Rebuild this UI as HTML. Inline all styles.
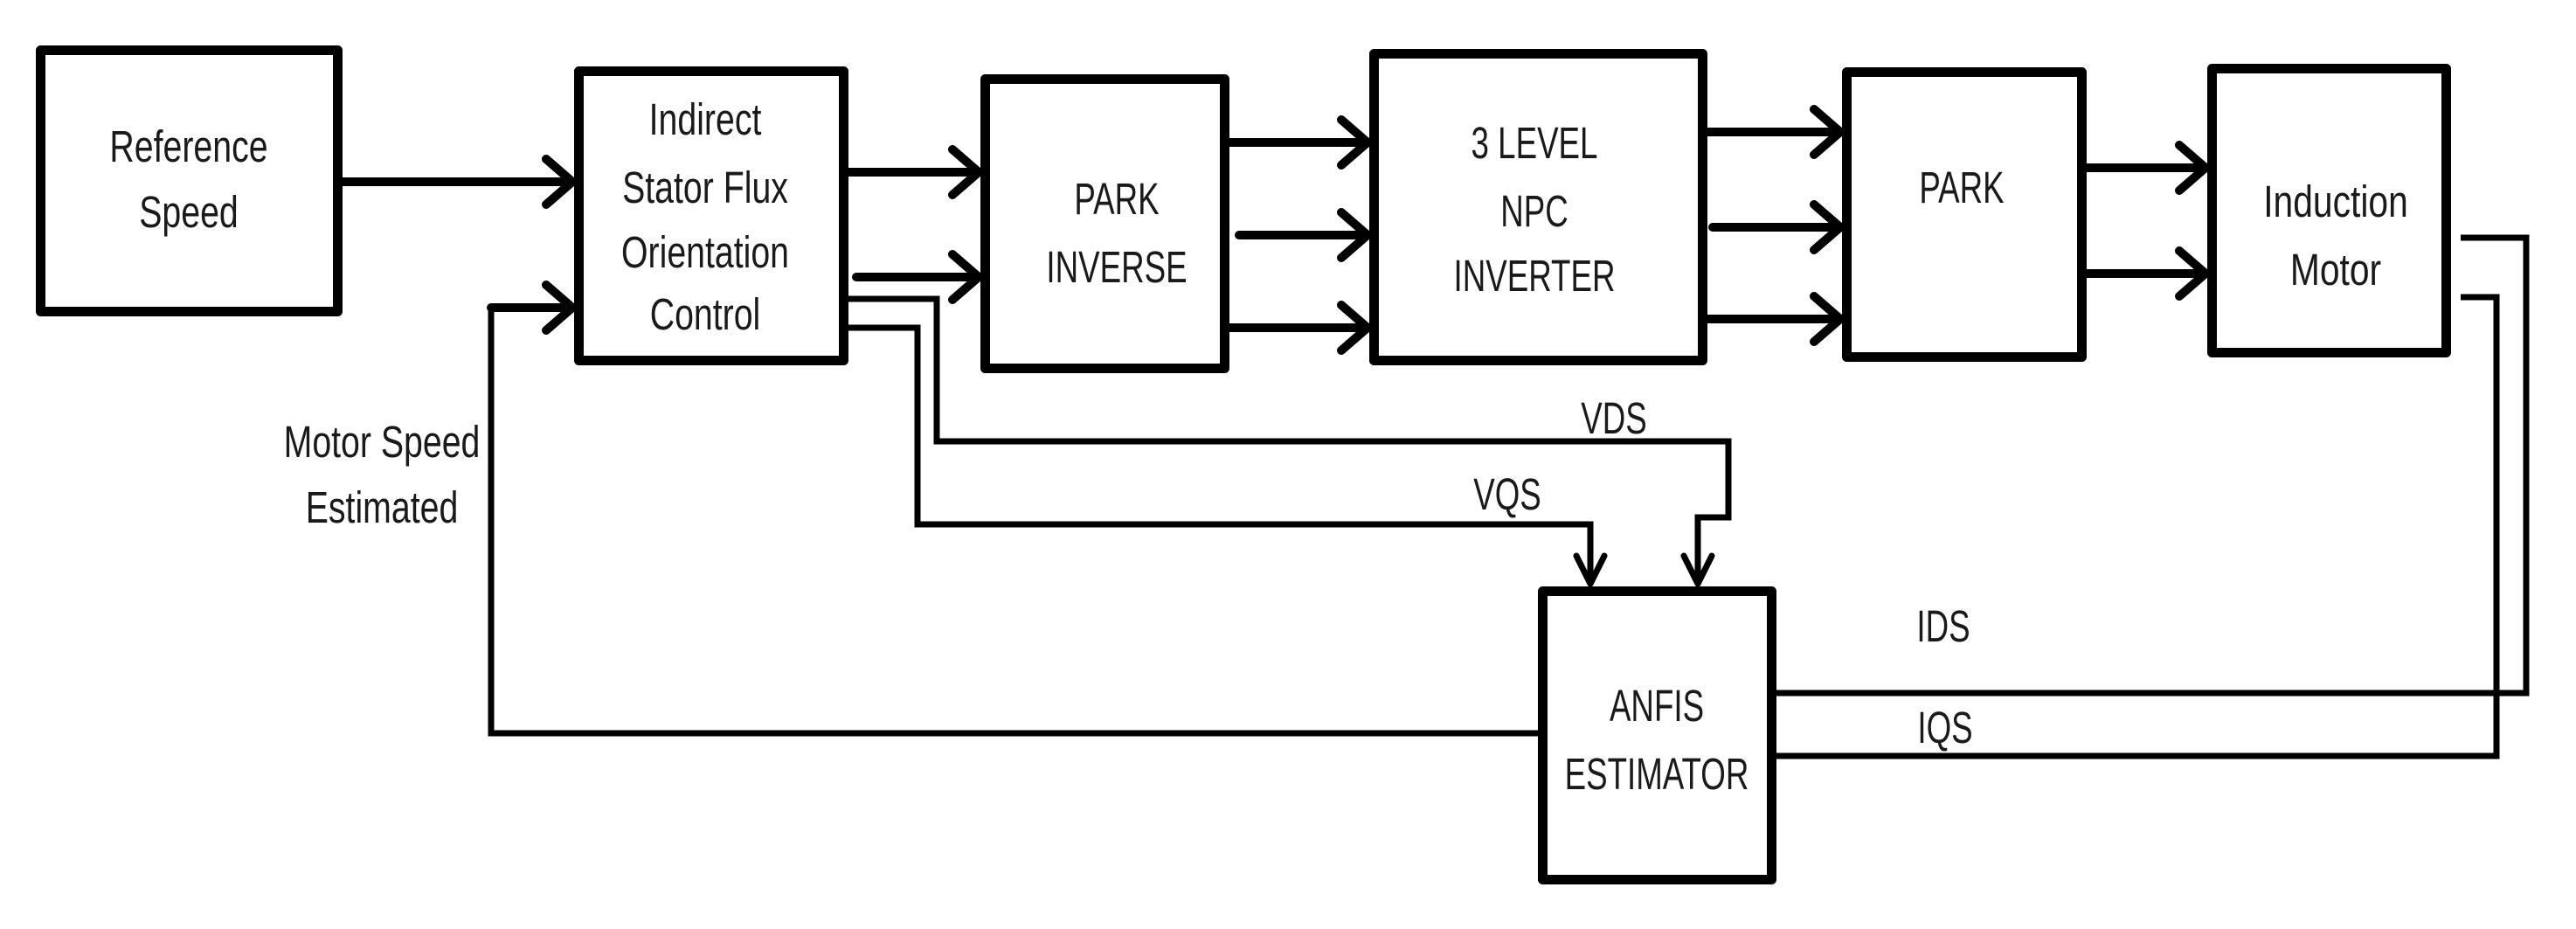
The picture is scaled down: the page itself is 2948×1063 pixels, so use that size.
<!DOCTYPE html>
<html><head><meta charset="utf-8"><style>
html,body{margin:0;padding:0;background:#fff}
svg{display:block}
text{font-family:"Liberation Sans",sans-serif;font-size:51px;fill:#1a1a1a}
</style></head><body>
<svg width="2948" height="1063" viewBox="0 0 2948 1063" xmlns="http://www.w3.org/2000/svg">
<g fill="none" stroke="#000" stroke-width="11" stroke-linejoin="round">
<rect x="46.5" y="57.5" width="340" height="299"/>
<rect x="662.5" y="81.5" width="303" height="331"/>
<rect x="1127.5" y="90.5" width="274" height="331"/>
<rect x="1572.5" y="61.5" width="376" height="351"/>
<rect x="2113.5" y="82.5" width="269" height="326"/>
<rect x="2531.5" y="78.5" width="268" height="325"/>
<rect x="1765.5" y="676.5" width="262" height="330"/>
</g>
<g fill="none" stroke="#000" stroke-width="10" stroke-linecap="round" stroke-linejoin="round">
<path d="M392 208H655M625 182L655 208L625 234"/>
<path d="M971 197H1120M1090 171L1120 197L1090 223"/>
<path d="M980 317H1120M1090 291L1120 317L1090 343"/>
<path d="M562 352H655M625 326L655 352L625 378"/>
<path d="M1407 163H1565M1535 137L1565 163L1535 189"/>
<path d="M1418 269H1565M1535 243L1565 269L1535 295"/>
<path d="M1407 375H1565M1535 349L1565 375L1535 401"/>
<path d="M1954 151H2106M2076 125L2106 151L2076 177"/>
<path d="M1960 260H2106M2076 234L2106 260L2076 286"/>
<path d="M1954 365H2106M2076 339L2106 365L2076 391"/>
<path d="M2388 192H2524M2494 166L2524 192L2494 218"/>
<path d="M2388 313H2524M2494 287L2524 313L2494 339"/>
</g>
<g fill="none" stroke="#000" stroke-width="7" stroke-linecap="butt" stroke-linejoin="miter">
<path d="M562 352V839H1760"/>
<path d="M971 342H1072V505H1978V592H1943V668"/>
<path d="M971 375H1050V600H1820V668"/>
<path d="M2816 272H2891V793H2033"/>
<path d="M2816 340H2857V865H2033"/>
</g>
<g fill="none" stroke="#000" stroke-width="7" stroke-linecap="round" stroke-linejoin="round">
<path d="M1804 636L1820 668L1836 636"/>
<path d="M1927 636L1943 668L1959 636"/>
</g>
<g text-anchor="middle">
<text transform="translate(216,185) scale(0.77,1)">Reference</text>
<text transform="translate(216,260) scale(0.77,1)">Speed</text>
<text transform="translate(807,154) scale(0.77,1)">Indirect</text>
<text transform="translate(807,232) scale(0.77,1)">Stator Flux</text>
<text transform="translate(807,306) scale(0.77,1)">Orientation</text>
<text transform="translate(807,377) scale(0.77,1)">Control</text>
<text transform="translate(1278,245) scale(0.72,1)">PARK</text>
<text transform="translate(1278,323) scale(0.72,1)">INVERSE</text>
<text transform="translate(1756,181) scale(0.72,1)">3 LEVEL</text>
<text transform="translate(1756,259) scale(0.72,1)">NPC</text>
<text transform="translate(1756,333) scale(0.72,1)">INVERTER</text>
<text transform="translate(2245,232) scale(0.72,1)">PARK</text>
<text transform="translate(2673,248) scale(0.8,1)">Induction</text>
<text transform="translate(2673,326) scale(0.8,1)">Motor</text>
<text transform="translate(1896,825) scale(0.72,1)">ANFIS</text>
<text transform="translate(1896,903) scale(0.72,1)">ESTIMATOR</text>
<text transform="translate(437,523) scale(0.77,1)">Motor Speed</text>
<text transform="translate(437,598) scale(0.77,1)">Estimated</text>
<text transform="translate(1847,496) scale(0.72,1)">VDS</text>
<text transform="translate(1725,583) scale(0.72,1)">VQS</text>
<text transform="translate(2224,734) scale(0.72,1)">IDS</text>
<text transform="translate(2226,850) scale(0.72,1)">IQS</text>
</g>
</svg>
</body></html>
